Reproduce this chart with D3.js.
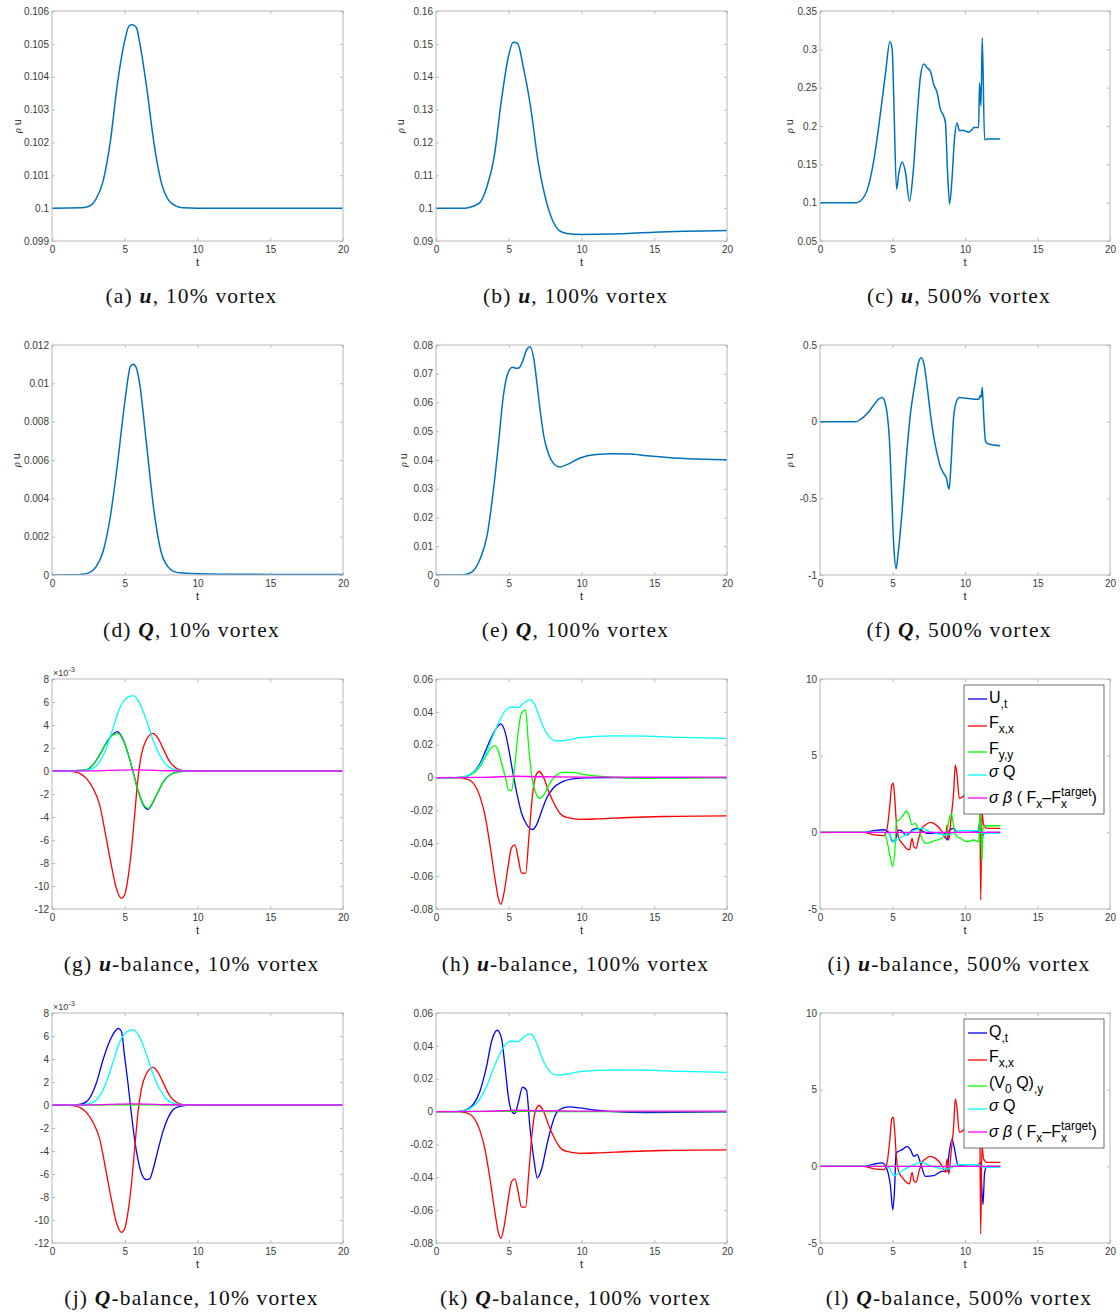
<!DOCTYPE html>
<html>
<head>
<meta charset="utf-8">
<script src="https://cdn.jsdelivr.net/npm/d3@7"></script>
<style>
  body { margin: 0; background: #fff; }
</style>
</head>
<body>
<svg id="fig" width="1120" height="1315"></svg>
<script>
// ---- data (t, value) ----
var xTickLabels = ['0', '5', '10', '15', '20'];

// row 1: rho u
var aU = [[0,0.1],[2,0.10001],[2.5,0.10005],[3,0.10026],[3.5,0.1008],[4,0.102],[4.5,0.1038],[5,0.1051],[5.3,0.10555],[5.5,0.10558],[5.8,0.1055],[6,0.1051],[6.5,0.1037],[7,0.102],[7.5,0.1008],[8,0.10025],[8.5,0.10007],[9,0.10001],[10,0.1],[20,0.1]];
var bU = [[0,0.1],[2,0.1],[2.5,0.1005],[3,0.1016],[3.5,0.1065],[4,0.1157],[4.5,0.133],[5,0.1466],[5.3,0.1505],[5.6,0.1502],[6,0.143],[6.5,0.1309],[7,0.1147],[7.5,0.1035],[8,0.0964],[8.5,0.0931],[9,0.0923],[10,0.092],[12,0.0921],[15,0.0927],[20,0.0932]];
var cU = [[0,0.1],[2.5,0.1],[2.8,0.1025],[3.26,0.1167],[3.72,0.156],[4.17,0.217],[4.52,0.269],[4.82,0.31],[4.98,0.30],[5.09,0.234],[5.28,0.1176],[5.44,0.1385],[5.67,0.153],[5.9,0.139],[6.17,0.102],[6.42,0.1385],[6.7,0.213],[6.93,0.265],[7.16,0.281],[7.39,0.276],[7.61,0.2715],[7.84,0.254],[8.07,0.244],[8.3,0.222],[8.53,0.213],[8.65,0.204],[8.8,0.1385],[8.94,0.0985],[9.1,0.13],[9.27,0.182],[9.45,0.204],[9.61,0.194],[9.91,0.194],[10.25,0.192],[10.48,0.195],[10.6,0.198],[10.94,0.198],[11.0,0.256],[11.1,0.226],[11.19,0.315],[11.35,0.182],[11.51,0.183],[12.43,0.183]];

// row 2: Q
var dQ = [[0,0],[1.5,0.00001],[2,0.00003],[2.5,0.0001],[3,0.0004],[3.5,0.0012],[4,0.003],[4.5,0.0058],[5,0.009],[5.4,0.0109],[5.6,0.011],[5.8,0.0108],[6,0.0101],[6.5,0.0068],[7,0.0034],[7.5,0.0012],[8,0.0004],[8.5,0.00015],[9,0.0001],[10,0.00007],[15,0.00003],[20,0.00002]];
var eQ = [[0,0],[1.5,0],[2,0.0002],[2.5,0.0012],[3,0.0052],[3.5,0.0134],[3.95,0.0297],[4.3,0.046],[4.62,0.062],[4.97,0.0706],[5.26,0.0723],[5.54,0.0719],[5.72,0.0721],[6,0.075],[6.22,0.0783],[6.45,0.0794],[6.73,0.075],[6.96,0.0657],[7.18,0.0564],[7.41,0.0483],[7.71,0.0424],[8.05,0.039],[8.5,0.0376],[9,0.0384],[9.9,0.0407],[11,0.0419],[12.2,0.0422],[13.3,0.0421],[14.5,0.0415],[16.75,0.0406],[20,0.0401]];
var fQ = [[0,0],[2.5,0],[2.8,0.015],[3.26,0.054],[3.72,0.109],[4.06,0.148],[4.29,0.157],[4.47,0.13],[4.63,0.054],[4.79,-0.12],[4.93,-0.446],[5.09,-0.815],[5.25,-0.96],[5.39,-0.859],[5.67,-0.576],[5.96,-0.228],[6.24,0.054],[6.51,0.228],[6.81,0.391],[6.97,0.417],[7.16,0.38],[7.39,0.228],[7.61,0.054],[7.84,-0.098],[8.07,-0.207],[8.3,-0.293],[8.53,-0.337],[8.72,-0.37],[8.81,-0.413],[8.9,-0.441],[9.04,-0.272],[9.22,0.033],[9.45,0.141],[9.61,0.157],[10.14,0.152],[10.94,0.146],[11.06,0.17],[11.12,0.159],[11.19,0.224],[11.28,0.054],[11.42,-0.13],[11.63,-0.146],[12.43,-0.157]];

// 10% vortex balances (values in units of 1e-3)
var gUt = [[0,0],[1.5,0.02],[2.36,0.1],[2.82,0.55],[3.28,1.42],[3.73,2.45],[4.19,3.2],[4.5,3.42],[4.88,2.75],[5.22,1.55],[5.57,-0.06],[5.91,-1.7],[6.25,-2.88],[6.6,-3.33],[6.94,-2.72],[7.29,-1.82],[7.74,-0.78],[8.2,-0.26],[8.77,-0.06],[9.5,0],[20,0]];
var gFyy = [[0,0],[1.5,0.02],[2.36,0.09],[2.82,0.52],[3.28,1.39],[3.73,2.4],[4.19,3.13],[4.54,3.28],[4.88,2.7],[5.22,1.54],[5.57,-0.06],[5.91,-1.65],[6.25,-2.81],[6.6,-3.25],[6.94,-2.67],[7.29,-1.8],[7.74,-0.78],[8.2,-0.26],[8.77,-0.06],[9.5,0],[20,0]];
var gFxx = [[0,0],[1,0],[1.44,-0.06],[1.9,-0.2],[2.36,-0.64],[2.82,-1.5],[3.28,-2.96],[3.73,-5.86],[4.08,-8.2],[4.42,-10.2],[4.77,-11.07],[4.99,-10.78],[5.22,-9.33],[5.45,-7.0],[5.68,-3.83],[5.91,-0.64],[6.14,1.39],[6.48,2.7],[6.94,3.28],[7.29,2.84],[7.63,1.97],[8.09,0.81],[8.55,0.23],[9,0.03],[10,0],[20,0]];
var gSigQ = [[0,0],[1.9,0],[2.82,0.23],[3.28,0.81],[3.73,1.97],[4.19,3.71],[4.65,5.45],[5.11,6.32],[5.57,6.55],[6.03,5.88],[6.48,4.43],[6.94,2.7],[7.4,1.39],[7.86,0.52],[8.32,0.17],[8.8,0.05],[9.5,0],[20,0]];
var gSigB = [[0,0],[3,0.01],[4.5,0.08],[5.5,0.1],[6.5,0.08],[8,0.02],[10,0],[20,0]];
var jQt = [[0,0],[1.44,0],[2.13,0.12],[2.59,0.61],[3.05,1.91],[3.51,3.94],[3.96,5.54],[4.42,6.55],[4.54,6.67],[4.77,6.41],[4.99,4.23],[5.22,1.91],[5.45,-0.7],[5.68,-3.01],[5.91,-4.75],[6.14,-5.91],[6.48,-6.49],[6.71,-6.43],[6.94,-5.62],[7.29,-3.88],[7.63,-2.29],[7.97,-1.13],[8.32,-0.41],[8.77,-0.12],[9.23,-0.03],[10,0],[20,0]];
var jV0Q = [[0,0],[5,0.02],[8,0],[20,0]];

// 100% vortex balances
var hUt = [[0,0],[1.4,0],[2.1,0.0008],[2.56,0.0032],[3.02,0.0085],[3.48,0.0179],[3.94,0.027],[4.28,0.0316],[4.44,0.0327],[4.74,0.028],[5.03,0.0158],[5.31,0.0016],[5.58,-0.0105],[5.88,-0.0217],[6.22,-0.0284],[6.64,-0.0316],[6.91,-0.0288],[7.25,-0.0207],[7.6,-0.0126],[8.05,-0.0065],[8.63,-0.0028],[9.43,-0.0008],[10.34,-0.0002],[12,0],[20,0]];
var hFyy = [[0,0],[1.4,0],[2.1,0.0008],[2.56,0.0026],[3.02,0.0067],[3.48,0.0138],[3.82,0.0183],[4.05,0.0193],[4.21,0.0179],[4.51,0.0087],[4.81,-0.0014],[4.97,-0.0075],[5.19,-0.0079],[5.42,0.0077],[5.65,0.028],[5.88,0.0392],[6.16,0.0412],[6.34,0.0219],[6.57,0.0016],[6.86,-0.0095],[7.14,-0.0126],[7.48,-0.0095],[7.83,-0.0034],[8.28,0.0016],[8.74,0.0032],[9.31,0.0032],[10.34,0.0016],[12.17,0.0002],[14.46,-0.0004],[16.75,-0.0003],[20,0]];
var hFxx = [[0,0],[1.4,0],[2.1,-0.0008],[2.56,-0.0034],[3.02,-0.0116],[3.36,-0.0227],[3.71,-0.041],[4.05,-0.0613],[4.28,-0.0734],[4.46,-0.0771],[4.67,-0.0704],[4.97,-0.0532],[5.19,-0.0426],[5.42,-0.041],[5.65,-0.0491],[5.88,-0.0582],[6.16,-0.0582],[6.38,-0.0369],[6.61,-0.0126],[6.84,0.0006],[7.09,0.0037],[7.37,0.0006],[7.71,-0.0075],[8.05,-0.0146],[8.51,-0.0217],[8.97,-0.0243],[9.89,-0.0254],[11.03,-0.0252],[13.3,-0.0243],[15.6,-0.0237],[20,-0.0233]];
var hSigQ = [[0,0],[1.4,0],[2.1,0.001],[2.56,0.0032],[3.02,0.0077],[3.48,0.0154],[3.94,0.026],[4.39,0.035],[4.85,0.0416],[5.19,0.0428],[5.65,0.0426],[6.0,0.0452],[6.45,0.0473],[6.8,0.0442],[7.14,0.0361],[7.48,0.029],[7.83,0.0243],[8.28,0.0223],[8.74,0.0225],[9.89,0.0243],[12.17,0.0254],[14.46,0.0252],[16.75,0.0245],[20,0.0239]];
var hSigB = [[0,0],[3,0.0001],[4.5,0.0005],[5.5,0.0008],[7,0.0005],[10,0.0003],[20,0.0003]];
var kQt = [[0,0],[1.4,0],[2.1,0.0012],[2.56,0.0043],[3.02,0.0124],[3.48,0.0276],[3.82,0.0428],[4.21,0.0495],[4.51,0.0442],[4.74,0.0276],[4.97,0.0093],[5.19,0.0002],[5.42,-0.0012],[5.65,0.0053],[5.95,0.0148],[6.22,0.013],[6.45,-0.0089],[6.73,-0.0292],[6.96,-0.0404],[7.25,-0.0353],[7.6,-0.0211],[7.94,-0.0089],[8.28,-0.0008],[8.74,0.0022],[9.2,0.0028],[9.89,0.0022],[11.03,0.0008],[12.17,0],[14.46,-0.0006],[20,-0.0002]];
var kV0Q = [[0,0],[5,0.0002],[8,0],[20,0]];

// 500% vortex balances
var iUt = [[0,0],[3,0],[3.72,0.11],[4.4,0.17],[4.75,0.0],[5.02,-0.61],[5.2,-0.5],[5.37,0.11],[5.55,0.15],[5.78,-0.07],[6.01,-0.17],[6.35,0.15],[6.7,0.26],[7.04,0.09],[7.39,-0.07],[8.07,-0.07],[8.53,0],[8.76,-0.5],[8.94,0.15],[9.22,0.26],[9.45,0],[10.14,0],[10.94,0.05],[11.01,0.7],[11.12,-1.26],[11.24,-0.17],[11.51,0],[12.43,0]];
var iFxx = [[0,0],[3,0],[3.72,-0.17],[4.4,-0.22],[4.63,0.26],[4.82,1.78],[4.95,3.09],[5.05,3.2],[5.14,2.43],[5.28,0.48],[5.44,-0.39],[5.67,-0.72],[6.01,-1.09],[6.17,-1.15],[6.35,-0.39],[6.47,-0.93],[6.63,-1.04],[6.81,-0.39],[7.04,0.26],[7.27,0.48],[7.61,0.65],[7.96,0.52],[8.42,0.04],[8.65,-0.39],[8.76,0.48],[8.88,-0.5],[9.04,0.91],[9.22,2.65],[9.33,4.39],[9.45,3.74],[9.61,2.22],[9.91,2.37],[10.14,2.65],[10.5,3.0],[10.9,3.5],[11.0,6.0],[11.08,-4.41],[11.17,1.35],[11.28,0.5],[11.51,0.26],[12.43,0.26]];
var iFyy = [[0,0],[4.4,0],[4.63,-0.61],[4.86,-1.7],[5.02,-2.24],[5.14,-1.48],[5.28,0.7],[5.44,0.8],[5.67,1.02],[5.96,1.39],[6.12,1.17],[6.35,0.48],[6.54,0.59],[6.74,0.3],[6.93,-0.17],[7.27,-0.72],[7.84,-0.57],[8.42,-0.35],[8.72,-0.07],[8.88,0.7],[9.04,1.24],[9.17,0.7],[9.33,-0.17],[9.68,-0.39],[10.14,-0.61],[10.6,-0.5],[10.94,-0.61],[11.06,1.35],[11.17,-1.91],[11.24,0.26],[11.51,0.43],[12.43,0.43]];
var iSigQ = [[0,0],[4.4,0],[4.75,-0.07],[5.09,-0.61],[5.32,-0.5],[5.78,-0.22],[6.24,0],[6.7,0.2],[7.04,0.26],[7.39,0.11],[8.07,-0.09],[8.76,-0.17],[9.1,-0.09],[9.45,0.11],[10.14,0.11],[10.94,0.11],[11.17,-0.04],[11.51,-0.07],[12.43,-0.07]];
var iSigB = [[0,0],[12.43,0]];
var lQt = [[0,0],[3,0],[3.72,0.15],[4.29,0.22],[4.63,-0.22],[4.86,-1.3],[5.02,-2.83],[5.14,-1.52],[5.25,0.87],[5.44,0.98],[5.67,1.09],[6.01,1.3],[6.24,1.09],[6.47,0.65],[6.7,0.76],[6.93,0.22],[7.27,-0.65],[7.84,-0.61],[8.42,-0.33],[8.76,-0.33],[8.88,0.65],[9.1,1.78],[9.33,0.87],[9.5,0.11],[10.14,0],[10.94,0],[11.01,0.22],[11.1,-0.43],[11.24,-2.5],[11.35,-0.43],[11.51,0],[12.43,0]];
var lV0Q = [[0,0],[12.43,0]];

// tick labels (values are parsed from them)
var yLabA = ['0.099','0.1','0.101','0.102','0.103','0.104','0.105','0.106'];
var yLabB = ['0.09','0.1','0.11','0.12','0.13','0.14','0.15','0.16'];
var yLabC = ['0.05','0.1','0.15','0.2','0.25','0.3','0.35'];
var yLabD = ['0','0.002','0.004','0.006','0.008','0.01','0.012'];
var yLabE = ['0','0.01','0.02','0.03','0.04','0.05','0.06','0.07','0.08'];
var yLabF = ['-1','-0.5','0','0.5'];
var yLabG = ['-12','-10','-8','-6','-4','-2','0','2','4','6','8'];
var yLabH = ['-0.08','-0.06','-0.04','-0.02','0','0.02','0.04','0.06'];
var yLabI = ['-5','0','5','10'];

var legendU = [
  [['U'], [',t','sub']],
  [['F'], ['x,x','sub']],
  [['F'], ['y,y','sub']],
  [['σ','it'], [' Q']],
  [['σ','it'], [' '], ['β','it'], [' ( F'], ['x','sub'], ['–F'], ['x','sub'], ['target','supstack'], [')']]
];
var legendQ = [
  [['Q'], [',t','sub']],
  [['F'], ['x,x','sub']],
  [['(V'], ['0','sub'], [' Q)'], [',y','sub']],
  [['σ','it'], [' Q']],
  [['σ','it'], [' '], ['β','it'], [' ( F'], ['x','sub'], ['–F'], ['x','sub'], ['target','supstack'], [')']]
];

// ---- layout ----
var svg = d3.select('#fig');
var colX = [52, 436, 820], rowY = [11, 345, 679, 1013];
var H = 230;
var frameColor = '#b8b8b8', tickText = '#3a3a3a';
var mBlue = '#0072BD';
var cU_ = '#0000FF', cFx = '#FF0000', cFy = '#00FF00', cSQ = '#00FFFF', cSB = '#FF00FF';

var panels = [
  {key:'a', row:0, col:0, yl:yLabA, ylab:34, series:[[aU, mBlue]], cap:['(a) ','u',', 10% vortex']},
  {key:'b', row:0, col:1, yl:yLabB, ylab:35, series:[[bU, mBlue]], cap:['(b) ','u',', 100% vortex']},
  {key:'c', row:0, col:2, yl:yLabC, ylab:30, series:[[cU, mBlue]], cap:['(c) ','u',', 500% vortex']},
  {key:'d', row:1, col:0, yl:yLabD, ylab:35, series:[[dQ, mBlue]], cap:['(d) ','Q',', 10% vortex']},
  {key:'e', row:1, col:1, yl:yLabE, ylab:32, series:[[eQ, mBlue]], cap:['(e) ','Q',', 100% vortex']},
  {key:'f', row:1, col:2, yl:yLabF, ylab:30, series:[[fQ, mBlue]], cap:['(f) ','Q',', 500% vortex']},
  {key:'g', row:2, col:0, yl:yLabG, exp:true, series:[[gUt,cU_],[gFxx,cFx],[gFyy,cFy],[gSigQ,cSQ],[gSigB,cSB]], cap:['(g) ','u','-balance, 10% vortex']},
  {key:'h', row:2, col:1, yl:yLabH, series:[[hUt,cU_],[hFxx,cFx],[hFyy,cFy],[hSigQ,cSQ],[hSigB,cSB]], cap:['(h) ','u','-balance, 100% vortex']},
  {key:'i', row:2, col:2, yl:yLabI, legend:legendU, series:[[iUt,cU_],[iFxx,cFx],[iFyy,cFy],[iSigQ,cSQ],[iSigB,cSB]], cap:['(i) ','u','-balance, 500% vortex']},
  {key:'j', row:3, col:0, yl:yLabG, exp:true, series:[[jQt,cU_],[gFxx,cFx],[jV0Q,cFy],[gSigQ,cSQ],[gSigB,cSB]], cap:['(j) ','Q','-balance, 10% vortex']},
  {key:'k', row:3, col:1, yl:yLabH, series:[[kQt,cU_],[hFxx,cFx],[kV0Q,cFy],[hSigQ,cSQ],[hSigB,cSB]], cap:['(k) ','Q','-balance, 100% vortex']},
  {key:'l', row:3, col:2, yl:yLabI, legend:legendQ, series:[[lQt,cU_],[iFxx,cFx],[lV0Q,cFy],[iSigQ,cSQ],[iSigB,cSB]], cap:['(l) ','Q','-balance, 500% vortex']}
];

var legLineY = [14, 41, 67, 90, 113], legBaseY = [18, 43, 69, 92, 118];

function drawPanel(p) {
  var w = p.col === 2 ? 290 : 291;
  var g = svg.append('g').attr('transform', 'translate(' + colX[p.col] + ',' + rowY[p.row] + ')');
  var yTicks = p.yl.map(Number);
  var x = d3.scaleLinear().domain([0, 20]).range([0, w]);
  var y = d3.scaleLinear().domain(d3.extent(yTicks)).range([H, 0]);
  var xTicks = xTickLabels.map(Number);

  g.append('clipPath').attr('id', 'clip-' + p.key)
    .append('rect').attr('width', w).attr('height', H);

  var axes = g.append('g').attr('font-family', 'Liberation Sans, Arial, sans-serif').attr('font-size', 10);
  axes.append('g').attr('transform', 'translate(0,' + H + ')')
    .call(d3.axisBottom(x).tickValues(xTicks).tickFormat(function(d, i) { return xTickLabels[i]; }).tickSize(-3).tickPadding(5));
  axes.append('g')
    .call(d3.axisTop(x).tickValues(xTicks).tickFormat('').tickSize(-3));
  axes.append('g')
    .call(d3.axisLeft(y).tickValues(yTicks).tickFormat(function(d, i) { return p.yl[i]; }).tickSize(-3).tickPadding(3));
  axes.append('g').attr('transform', 'translate(' + w + ',0)')
    .call(d3.axisRight(y).tickValues(yTicks).tickFormat('').tickSize(-3));
  axes.selectAll('.domain').remove();
  axes.selectAll('.tick line').attr('stroke', frameColor);
  axes.selectAll('.tick text').attr('fill', tickText);

  var line = d3.line().x(function(d) { return x(d[0]); }).y(function(d) { return y(d[1]); }).curve(d3.curveMonotoneX);
  p.series.forEach(function(s) {
    g.append('path')
      .attr('clip-path', 'url(#clip-' + p.key + ')')
      .attr('d', line(s[0]))
      .attr('fill', 'none')
      .attr('stroke', s[1])
      .attr('stroke-width', p.row < 2 ? 1.5 : 1.3)
      .attr('stroke-linejoin', 'round');
  });

  g.append('rect').attr('width', w).attr('height', H)
    .attr('fill', 'none').attr('stroke', frameColor).attr('stroke-width', 1);

  // axis titles
  g.append('text').attr('x', w / 2).attr('y', H + 25)
    .attr('text-anchor', 'middle').attr('fill', '#262626')
    .style('font', '11px "Liberation Sans", Arial, sans-serif').text('t');
  if (p.ylab) {
    var yt = g.append('text')
      .attr('transform', 'translate(' + (-p.ylab + 3) + ',' + (H / 2) + ') rotate(-90)')
      .attr('text-anchor', 'middle').attr('fill', '#262626')
      .style('font', '11px "Liberation Sans", Arial, sans-serif');
    yt.append('tspan').style('font-style', 'italic').style('font-size', '10px').style('font-family', '"Liberation Serif", serif').text('ρ');
    yt.append('tspan').text(' u');
  }
  if (p.exp) {
    var et = g.append('text').attr('x', 1).attr('y', -3).attr('fill', tickText)
      .style('font', '9px "Liberation Sans", Arial, sans-serif');
    et.append('tspan').text('×10');
    et.append('tspan').attr('dy', -4).style('font-size', '7.5px').text('-3');
  }

  if (p.legend) drawLegend(g, p.legend, p.series, 144, 6);

  // caption
  var ct = g.append('text').attr('x', w / 2 - 6).attr('y', H + 62)
    .attr('text-anchor', 'middle').attr('fill', '#111')
    .style('font', '21.5px "Liberation Serif", "DejaVu Serif", serif')
    .style('letter-spacing', '1.2px');
  ct.append('tspan').text(p.cap[0]);
  ct.append('tspan').style('font-weight', 'bold').style('font-style', 'italic').text(p.cap[1]);
  ct.append('tspan').text(p.cap[2]);
}

function drawLegend(g, entries, series, lx, ly) {
  var lg = g.append('g').attr('transform', 'translate(' + lx + ',' + ly + ')');
  lg.append('rect').attr('width', 140).attr('height', 129)
    .attr('fill', '#fff').attr('stroke', '#333').attr('stroke-width', 0.7);
  entries.forEach(function(parts, i) {
    lg.append('line').attr('x1', 4).attr('x2', 23)
      .attr('y1', legLineY[i]).attr('y2', legLineY[i])
      .attr('stroke', series[i][1]).attr('stroke-width', 1.3);
    var cx = 25, prevX = 25;
    parts.forEach(function(pt) {
      var kind = pt[1] || '';
      var small = kind === 'sub' || kind === 'supstack';
      var px = kind === 'supstack' ? prevX : cx;
      var dy = kind === 'sub' ? 5 : (kind === 'supstack' ? -7 : 0);
      var t = lg.append('text').attr('x', px).attr('y', legBaseY[i] + dy)
        .attr('fill', '#000')
        .style('font-family', '"Liberation Sans", Arial, sans-serif')
        .style('font-size', small ? '12px' : '16px')
        .style('white-space', 'pre')
        .text(pt[0]);
      if (kind === 'it') t.style('font-style', 'italic');
      var len = t.node().getComputedTextLength();
      prevX = px;
      cx = Math.max(cx, px + len);
    });
  });
}

panels.forEach(drawPanel);
</script>
</body>
</html>
